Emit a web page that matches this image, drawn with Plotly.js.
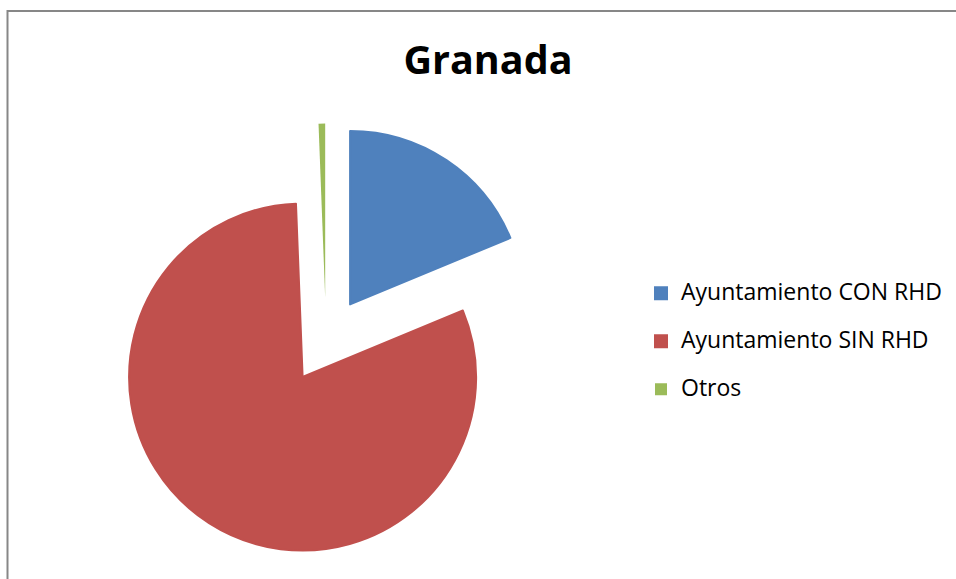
<!DOCTYPE html>
<html>
<head>
<meta charset="utf-8">
<script src="https://cdn.plot.ly/plotly-3.0.1.min.js"></script>
<style>
  html, body { margin: 0; padding: 0; background: #ffffff; }
  #chart { width: 956px; height: 579px; }
</style>
</head>
<body>
<div id="chart"></div>
<script>
// ---- data ----
const chartTitle = "Granada";
const categories = ["Ayuntamiento CON RHD", "Ayuntamiento SIN RHD", "Otros"];
const shares = [18.74, 80.65, 0.61];
const sliceColors = ["#4F81BD", "#C0504D", "#9BBB59"];
const explode = [0.25, 0.25, 0.25];
const outlineWidths = [2, 2, 0];

// legend text shown at 23px while the legend line spacing follows the smaller base font
const legendLabels = categories.map(c => '<span style="font-size:23px">' + c + '</span><br>&nbsp;');

const trace = {
  type: "pie",
  labels: legendLabels,
  values: shares,
  sort: false,
  direction: "clockwise",
  rotation: 0,
  pull: explode,
  textinfo: "none",
  hoverinfo: "none",
  marker: { colors: sliceColors, line: { width: outlineWidths, color: sliceColors } },
  domain: { x: [109.1 / 956, 542.9 / 956], y: [1 - 557.4 / 579, 1 - 123.6 / 579] }
};

const layout = {
  width: 956,
  height: 579,
  margin: { l: 0, r: 0, t: 0, b: 0 },
  paper_bgcolor: "#ffffff",
  font: { family: "Open Sans, sans-serif", color: "#000000" },
  title: {
    text: chartTitle,
    font: { family: "Open Sans, sans-serif", size: 39.5, color: "#000000", weight: "bold" },
    x: 488 / 956,
    xanchor: "center",
    xref: "container",
    y: 1 - 60.5 / 579,
    yanchor: "middle",
    yref: "container"
  },
  showlegend: true,
  legend: {
    x: 641 / 956,
    xanchor: "left",
    y: 1 - 275.5 / 579,
    yanchor: "top",
    valign: "top",
    font: { family: "Open Sans, sans-serif", size: 17.3, color: "#000000" },
    bgcolor: "rgba(0,0,0,0)",
    borderwidth: 0
  },
  shapes: [{
    type: "rect",
    xref: "paper", yref: "paper",
    x0: 7.5 / 956, x1: 1.05,
    y0: -0.05, y1: 1 - 11 / 579,
    line: { color: "#878787", width: 2 },
    fillcolor: "rgba(0,0,0,0)",
    layer: "below"
  }]
};

Plotly.newPlot("chart", [trace], layout, { displayModeBar: false, staticPlot: true });
</script>
</body>
</html>
